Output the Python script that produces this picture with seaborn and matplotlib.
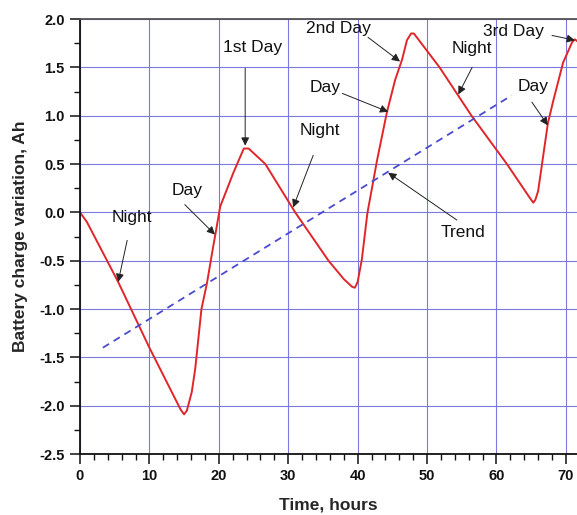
import matplotlib
matplotlib.use("Agg")
import matplotlib.pyplot as plt
from matplotlib.ticker import MultipleLocator
import seaborn as sns
import pandas as pd

# battery charge curve (hours, Ah)
time_h = [0, 1, 5.5, 10, 14.5, 15, 15.4, 16.1, 16.6, 17.5, 18.3, 19.2, 19.5,
          20.2, 22.1, 23.6, 24.3, 26.7, 31.0, 35.8, 38.0, 39.2, 39.6, 40.0,
          40.6, 41.4, 42.8, 44.2, 45.4, 46.4, 47.1, 47.7, 48.1, 51.8, 56.4,
          61.5, 64.8, 65.3, 65.6, 66.0, 66.7, 67.4, 68.2, 69.6, 70.9, 71.3, 71.8]
charge_ah = [0, -0.1, -0.72, -1.4, -2.04, -2.09, -2.05, -1.86, -1.62, -1.0,
             -0.73, -0.35, -0.23, 0.06, 0.41, 0.66, 0.66, 0.5, 0.0, -0.5,
             -0.69, -0.77, -0.78, -0.72, -0.49, -0.01, 0.54, 1.03, 1.37, 1.58,
             1.78, 1.85, 1.85, 1.5, 1.0, 0.5, 0.15, 0.1, 0.13, 0.22, 0.57,
             0.92, 1.16, 1.55, 1.76, 1.79, 1.76]

trend_h = [3.3, 62.2]
trend_ah = [-1.40, 1.21]

x_ticks = [0, 10, 20, 30, 40, 50, 60, 70]
y_ticks = [-2.5, -2.0, -1.5, -1.0, -0.5, 0.0, 0.5, 1.0, 1.5, 2.0]

# label text, text position, arrow tail, arrow head
notes = [
    ("Night", (7.5, -0.05), (6.8, -0.29), (5.5, -0.72)),
    ("Day", (15.4, 0.23), (15.1, 0.08), (19.45, -0.23)),
    ("1st Day", (24.9, 1.71), (23.8, 1.49), (23.8, 0.69)),
    ("Night", (34.6, 0.85), (33.6, 0.59), (30.7, 0.05)),
    ("2nd Day", (37.2, 1.90), (41.5, 1.81), (46.1, 1.56)),
    ("Day", (35.3, 1.29), (37.8, 1.23), (44.4, 1.04)),
    ("Night", (56.5, 1.70), (56.5, 1.50), (54.5, 1.22)),
    ("Trend", (55.2, -0.21), (54.3, -0.08), (44.4, 0.41)),
    ("3rd Day", (62.4, 1.87), (68.0, 1.83), (71.3, 1.78)),
    ("Day", (65.3, 1.30), (65.1, 1.14), (67.4, 0.90)),
]

sns.set_style("white")
plt.rcParams["font.family"] = ["Liberation Sans", "DejaVu Sans"]

curve = pd.DataFrame({"t": time_h, "q": charge_ah})
trend = pd.DataFrame({"t": trend_h, "q": trend_ah})

fig = plt.figure(figsize=(5.77, 5.15), dpi=100)
ax = fig.add_axes([0.1386, 0.1184, 0.8614, 0.8447])

sns.lineplot(data=curve, x="t", y="q", sort=False, color="#e0262a", linewidth=1.4, ax=ax)
sns.lineplot(data=trend, x="t", y="q", sort=False, color="#4a4ad0", linewidth=1.3,
             linestyle=(0, (4, 3)), ax=ax)

ax.set_xlim(0, 71.6)
ax.set_ylim(-2.5, 2.0)
ax.set_xticks(x_ticks)
ax.set_yticks(y_ticks)
ax.set_yticklabels([f"{v:.1f}" for v in y_ticks])
ax.xaxis.set_minor_locator(MultipleLocator(2))
ax.yaxis.set_minor_locator(MultipleLocator(0.25))
ax.tick_params(which="major", direction="out", length=7, width=1.1, colors="#111111",
               labelsize=10.5, bottom=True, left=True, pad=4)
ax.tick_params(which="minor", direction="out", length=4, width=1.0, colors="#111111",
               bottom=True, left=True)
for lab in ax.get_xticklabels() + ax.get_yticklabels():
    lab.set_fontweight("bold")

ax.grid(True, which="major", color="#7a7ade", linewidth=0.8)
ax.set_axisbelow(True)
for side in ["left", "bottom"]:
    ax.spines[side].set_color("#111111")
    ax.spines[side].set_linewidth(1.3)
ax.spines["top"].set_color("#555555")
ax.spines["top"].set_linewidth(1.3)
ax.spines["right"].set_visible(False)

ax.set_xlabel("Time, hours", fontsize=12.5, fontweight="bold", labelpad=10)
ax.set_ylabel("Battery charge variation, Ah", fontsize=12.5, fontweight="bold", labelpad=8)

for text, pos, tail, head in notes:
    ax.text(pos[0], pos[1], text, fontsize=12.5, ha="center", va="center", color="#111111")
    ax.annotate("", xy=head, xytext=tail,
                arrowprops=dict(arrowstyle="-|>", color="#222222", lw=0.7,
                                mutation_scale=12, shrinkA=0, shrinkB=0))

fig.savefig("out.png", dpi=100)
